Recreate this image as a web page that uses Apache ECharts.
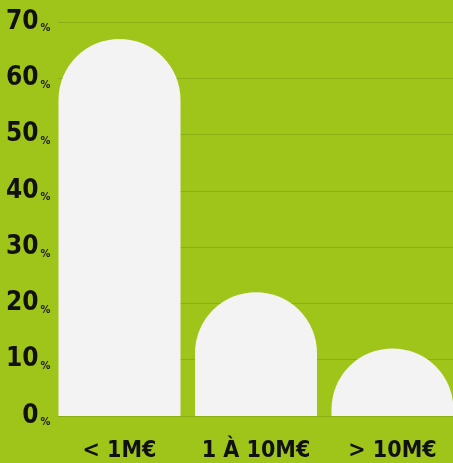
<!DOCTYPE html>
<html><head><meta charset="utf-8">
<style>html,body{margin:0;padding:0;background:#a0c51a;}#c{width:453px;height:463px;}</style>
<script src="https://cdn.jsdelivr.net/npm/echarts@6/dist/echarts.min.js"></script>
</head><body><div id="c"></div>
<script>
const categories = ['< 1M€', '1 À 10M€', '> 10M€'];
const values = [67, 22, 12];
const yTicks = [0, 10, 20, 30, 40, 50, 60, 70];

const chart = echarts.init(document.getElementById('c'));
const font = '"DejaVu Sans Condensed", "Liberation Sans Narrow", sans-serif';
chart.setOption({
  backgroundColor: '#a0c51a',
  animation: false,
  grid: [
    {left: 119.5, right: 60.5, top: 22, bottom: 47},
    {left: 58, right: 0, top: 22, bottom: 47}
  ],
  xAxis: [
    {type: 'category', gridIndex: 0, data: categories, boundaryGap: false,
     axisLine: {show: false}, axisTick: {show: false}, splitLine: {show: false},
     axisLabel: {interval: 0, margin: 24, color: '#111', fontFamily: font, fontWeight: 'bold', fontSize: 23}},
    {type: 'value', gridIndex: 1, show: false, min: 0, max: 1}
  ],
  yAxis: [
    {type: 'value', gridIndex: 0, min: yTicks[0], max: yTicks[yTicks.length-1], interval: 10,
     splitLine: {show: false}, axisLine: {show: false}, axisTick: {show: false},
     axisLabel: {margin: 69, formatter: v => '{a|' + v + '}{b|%}',
       rich: {
         a: {fontFamily: font, fontWeight: 'bold', fontSize: 26, color: '#111', verticalAlign: 'bottom'},
         b: {fontFamily: font, fontWeight: 'bold', fontSize: 11, color: '#222', padding: [0, 0, 1, 2], verticalAlign: 'bottom'}
       }}},
    {type: 'value', gridIndex: 1, min: yTicks[0], max: yTicks[yTicks.length-1], interval: 10,
     axisLabel: {show: false}, axisLine: {show: false}, axisTick: {show: false},
     splitLine: {show: true, lineStyle: {color: '#8aaf12', width: 1}}}
  ],
  series: [{
    type: 'bar', xAxisIndex: 0, yAxisIndex: 0, data: values, barWidth: 122,
    itemStyle: {color: '#f3f3f3', borderRadius: [61, 61, 0, 0]}
  }]
});
</script></body></html>
